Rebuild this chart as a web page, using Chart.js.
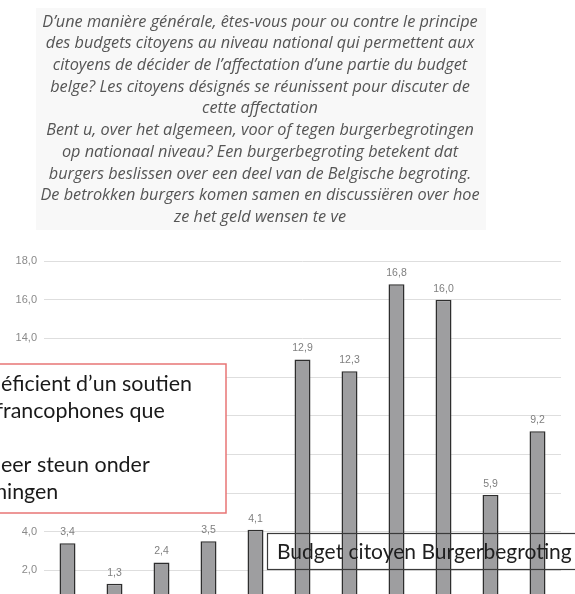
<!DOCTYPE html>
<html>
<head>
<meta charset="utf-8">
<script src="https://cdn.jsdelivr.net/npm/chart.js@4/dist/chart.umd.min.js"></script>
<style>
  html, body { margin: 0; padding: 0; background: #ffffff; overflow: hidden; }
  #wrap { position: relative; width: 575px; height: 630px; }
</style>
</head>
<body>
<div id="wrap"><canvas id="c" width="575" height="630"></canvas></div>
<script>
// ---- data ----
const categories = ['0', '1', '2', '3', '4', '5', '6', '7', '8', '9', '10'];
const values = [3.4, 1.3, 2.4, 3.5, 4.1, 12.9, 12.3, 16.8, 16.0, 5.9, 9.2];
const titleLines = [
  "D\u2019une mani\u00e8re g\u00e9n\u00e9rale, \u00eates-vous pour ou contre le principe",
  "des budgets citoyens au niveau national qui permettent aux",
  "citoyens de d\u00e9cider de l\u2019affectation d\u2019une partie du budget",
  "belge? Les citoyens d\u00e9sign\u00e9s se r\u00e9unissent pour discuter de",
  "cette affectation",
  "Bent u, over het algemeen, voor of tegen burgerbegrotingen",
  "op nationaal niveau? Een burgerbegroting betekent dat",
  "burgers beslissen over een deel van de Belgische begroting.",
  "De betrokken burgers komen samen en discussi\u00ebren over hoe",
  "ze het geld wensen te ve"
];
// note box (cut off at left edge): [hidden prefix, visible text]
const noteLines = [
  ["Le budget citoyen b\u00e9n", "\u00e9ficient d\u2019un soutien"],
  ["plus large chez les f", "rancophones que"],
  ["", ""],
  ["De burgerbegroting krijgt m", "eer steun onder"],
  ["Franstaligen dan Vlam", "ingen"]
];
const boxLabel = "Budget citoyen Burgerbegroting";

function fmt(v) { return v.toFixed(1).replace('.', ','); }

function fitSize(ctx, text, family, style, target) {
  ctx.font = style + ' 100px ' + family;
  const w = ctx.measureText(text).width;
  return 100 * target / w;
}

const overlay = {
  id: 'overlay',
  beforeDraw(chart) {
    const ctx = chart.ctx;
    ctx.save();
    // faint background behind the title
    ctx.fillStyle = '#f8f8f8';
    ctx.fillRect(36, 8, 450, 222);
    const fam = "'Open Sans', 'DejaVu Sans', sans-serif";
    const size = fitSize(ctx, titleLines[0], fam, 'italic', 436);
    ctx.font = 'italic ' + size + 'px ' + fam;
    ctx.fillStyle = '#555555';
    ctx.textAlign = 'center';
    ctx.textBaseline = 'middle';
    titleLines.forEach((t, i) => ctx.fillText(t, 260, 22 + i * 21.7));
    ctx.restore();
  },
  afterDatasetsDraw(chart) {
    const ctx = chart.ctx;
    const meta = chart.getDatasetMeta(0);
    ctx.save();
    ctx.font = "10.5px 'Liberation Sans', Arial, sans-serif";
    ctx.fillStyle = '#7f7f7f';
    ctx.textAlign = 'center';
    ctx.textBaseline = 'middle';
    meta.data.forEach((bar, i) => {
      ctx.fillText(fmt(values[i]), bar.x, bar.y - 11);
    });
    ctx.restore();
  },
  afterDraw(chart) {
    const ctx = chart.ctx;
    ctx.save();
    // red note box
    ctx.fillStyle = '#ffffff';
    ctx.fillRect(-60, 364, 286, 149);
    ctx.strokeStyle = '#e87575';
    ctx.lineWidth = 1.5;
    ctx.strokeRect(-60, 364, 286, 149);
    const fam = "Lato, 'Open Sans', sans-serif";
    const ns = fitSize(ctx, noteLines[0][1], fam, 'normal', 191);
    ctx.font = ns + 'px ' + fam;
    ctx.fillStyle = '#1a1a1a';
    ctx.textAlign = 'left';
    ctx.textBaseline = 'middle';
    const starts = [1, 3, 0, 1, 7];
    noteLines.forEach((l, i) => {
      if (!l[1]) return;
      const pw = ctx.measureText(l[0]).width;
      ctx.fillText(l[0] + l[1], starts[i] - pw, 384 + i * 27);
    });
    // transparent label box
    ctx.strokeStyle = '#3a3a3a';
    ctx.lineWidth = 1.2;
    ctx.strokeRect(267.5, 533.5, 340, 36);
    const bs = fitSize(ctx, boxLabel, fam, 'normal', 295);
    ctx.font = bs + 'px ' + fam;
    ctx.fillStyle = '#1e1e1e';
    ctx.fillText(boxLabel, 277, 552);
    ctx.restore();
  }
};

new Chart(document.getElementById('c'), {
  type: 'bar',
  data: {
    labels: categories,
    datasets: [{
      data: values,
      backgroundColor: '#9e9ea0',
      borderColor: '#2e2e2e',
      borderWidth: 1.5,
      borderSkipped: false,
      barPercentage: 0.34,
      categoryPercentage: 1.0
    }]
  },
  options: {
    responsive: false,
    animation: false,
    layout: { padding: { top: 261, right: 14, bottom: 1, left: 0 } },
    plugins: { legend: { display: false }, tooltip: { enabled: false }, title: { display: false } },
    scales: {
      y: {
        min: 0, max: 18,
        ticks: {
          stepSize: 2,
          callback: v => fmt(v),
          color: '#8a8a8a',
          padding: 7,
          font: { family: "'Liberation Sans', Arial, sans-serif", size: 11 }
        },
        grid: { color: '#dedede', drawTicks: false },
        border: { display: false },
        afterFit: s => { s.width = 44; }
      },
      x: {
        grid: { display: false },
        ticks: { color: '#8a8a8a', font: { size: 11 } },
        border: { color: '#d0d0d0' },
        afterFit: s => { s.height = 20; }
      }
    }
  },
  plugins: [overlay]
});
</script>
</body>
</html>
